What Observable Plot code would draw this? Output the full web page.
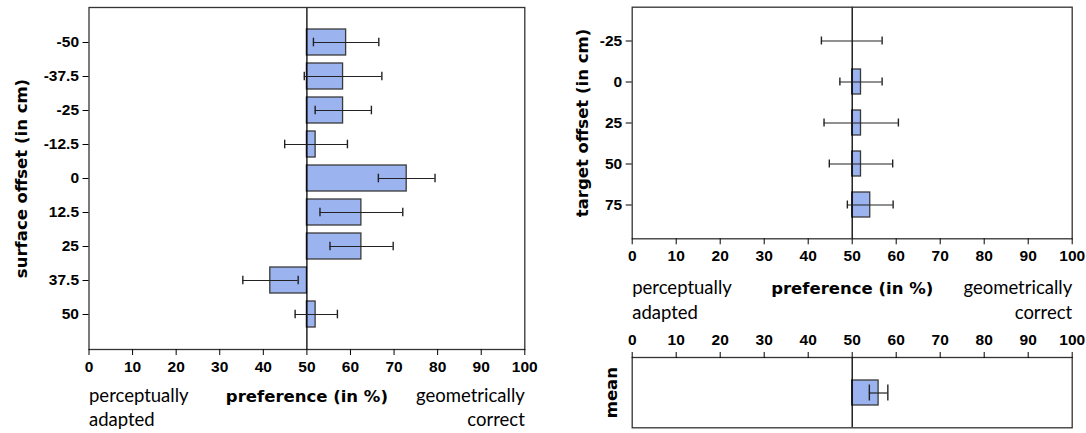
<!DOCTYPE html>
<html><head><meta charset="utf-8">
<script src="https://cdn.jsdelivr.net/npm/d3@7"></script>
<script src="https://cdn.jsdelivr.net/npm/@observablehq/plot@0.6"></script>
<style>
body{margin:0;background:#fff;}
#wrap{position:relative;width:1086px;height:433px;overflow:hidden;}
#wrap svg{position:absolute;overflow:visible;}
</style></head><body><div id="wrap"></div>
<script>
// ---- data ----
const surfaceOffsets = ["-50", "-37.5", "-25", "-12.5", "0", "12.5", "25", "37.5", "50"];
const surfacePref = [59.0, 58.3, 58.3, 52.0, 72.9, 62.5, 62.5, 41.6, 52.0];
const surfaceLo   = [51.5, 49.4, 51.9, 44.9, 66.4, 53.0, 55.3, 35.3, 47.3];
const surfaceHi   = [66.5, 67.2, 64.8, 59.3, 79.4, 72.0, 69.8, 48.0, 57.0];

const targetOffsets = ["-25", "0", "25", "50", "75"];
const targetPref = [50.0, 52.0, 52.0, 52.0, 54.1];
const targetLo   = [43.0, 47.2, 43.6, 44.8, 48.9];
const targetHi   = [56.8, 56.8, 60.5, 59.2, 59.3];

const meanCats = ["mean"];
const meanPref = [56.0];
const meanLo   = [53.9];
const meanHi   = [58.1];

const xTicks = [0, 10, 20, 30, 40, 50, 60, 70, 80, 90, 100];
const xTitle = "preference (in %)";
const leftEnd = ["perceptually", "adapted"];
const rightEnd = ["geometrically", "correct"];

// ---- helpers ----
const FILL = "#9bb3ee", EDGE = "#3a3a3a", ERR = "#222";
const TICK_FONT = "'Liberation Sans', Arial, sans-serif";
const LABEL_FONT = "Lato, sans-serif";
const TITLE_FONT = "'DejaVu Sans', sans-serif";
const tickFont = {fontFamily: TICK_FONT, fontSize: 15.5, fontWeight: "bold", fill: "black"};
const rows = (cats, v, lo, hi) => cats.map((c, i) => ({c, v: v[i], lo: lo[i], hi: hi[i]}));

function barMarks(data, capInset) {
  return [
    Plot.barX(data, {y: "c", x1: 50, x2: "v", fill: FILL, stroke: EDGE, strokeWidth: 1.3}),
    Plot.ruleX([50], {stroke: "black", strokeWidth: 1.3}),
    Plot.ruleY(data, {y: "c", x1: "lo", x2: "hi", stroke: ERR, strokeWidth: 1.2}),
    Plot.tickX(data, {y: "c", x: "lo", insetTop: capInset, insetBottom: capInset, stroke: ERR, strokeWidth: 1.4}),
    Plot.tickX(data, {y: "c", x: "hi", insetTop: capInset, insetBottom: capInset, stroke: ERR, strokeWidth: 1.4}),
    Plot.frame({stroke: "#333", strokeWidth: 1.3})
  ];
}
function xAxis(anchor) {
  const top = anchor === "top";
  return [
    Plot.axisX({anchor, ticks: xTicks, tickSize: 6, tickFormat: () => "", stroke: "black", label: null}),
    Plot.text(xTicks, {x: d => d, text: d => String(d), frameAnchor: anchor, dy: top ? -17 : 17.5, lineAnchor: "middle", ...tickFont})
  ];
}
function yAxis(cats) {
  return [
    Plot.axisY({tickSize: 6, tickFormat: () => "", stroke: "black", label: null}),
    Plot.text(cats, {y: d => d, text: d => d, frameAnchor: "left", dx: -10, textAnchor: "end", lineAnchor: "middle", ...tickFont})
  ];
}
function txt(s, opts) {
  return Plot.text([0], {text: () => s, fill: "black", fontWeight: "normal", fontFamily: LABEL_FONT, fontSize: 18.5, ...opts});
}
function endLabels(dy1, dy2) {
  return [
    txt(leftEnd[0], {frameAnchor: "bottom-left", textAnchor: "start", lineAnchor: "bottom", dy: dy1}),
    txt(leftEnd[1], {frameAnchor: "bottom-left", textAnchor: "start", lineAnchor: "bottom", dy: dy2}),
    txt(rightEnd[0], {frameAnchor: "bottom-right", textAnchor: "end", lineAnchor: "bottom", dy: dy1}),
    txt(rightEnd[1], {frameAnchor: "bottom-right", textAnchor: "end", lineAnchor: "bottom", dy: dy2}),
    txt(xTitle, {frameAnchor: "bottom", textAnchor: "middle", lineAnchor: "bottom", dy: dy1, fontWeight: "bold", fontFamily: TITLE_FONT, fontSize: 16.5})
  ];
}
function yTitle(s, dx) {
  return txt(s, {frameAnchor: "left", rotate: -90, textAnchor: "middle", lineAnchor: "middle", dx, fontWeight: "bold", fontFamily: TITLE_FONT, fontSize: 16.5});
}
const baseStyle = (left, top) => ({fontFamily: TICK_FONT, fontSize: "15px", color: "black", background: "transparent", left: left + "px", top: top + "px"});

const wrap = document.getElementById("wrap");

// ---- left panel: surface offset ----
const leftData = rows(surfaceOffsets, surfacePref, surfaceLo, surfaceHi);
wrap.append(Plot.plot({
  width: 540, height: 433,
  marginLeft: 88.5, marginRight: 15.7, marginTop: 7, marginBottom: 84,
  style: baseStyle(0, 0),
  x: {domain: [0, 100]},
  y: {domain: surfaceOffsets, paddingInner: 0.25, paddingOuter: 0.625},
  marks: [
    ...barMarks(leftData, 8.7),
    ...xAxis("bottom"),
    ...yAxis(surfaceOffsets),
    ...endLabels(52, 76),
    yTitle("surface offset (in cm)", -67.5)
  ]
}));

// ---- top right panel: target offset ----
const targetData = rows(targetOffsets, targetPref, targetLo, targetHi);
wrap.append(Plot.plot({
  width: 546, height: 330,
  marginLeft: 91.7, marginRight: 14.3, marginTop: 6.7, marginBottom: 91.7,
  style: baseStyle(540, 0),
  x: {domain: [0, 100]},
  y: {domain: targetOffsets, paddingInner: 0.4, paddingOuter: 0.485},
  marks: [
    ...barMarks(targetData, 8.5),
    ...xAxis("bottom"),
    ...yAxis(targetOffsets),
    ...endLabels(55, 80),
    yTitle("target offset (in cm)", -49)
  ]
}));

// ---- bottom right panel: mean ----
const meanData = rows(meanCats, meanPref, meanLo, meanHi);
wrap.append(Plot.plot({
  width: 546, height: 103,
  marginLeft: 91.7, marginRight: 14.3, marginTop: 27, marginBottom: 5.7,
  style: baseStyle(540, 330),
  x: {domain: [0, 100]},
  y: {domain: meanCats, paddingInner: 0, paddingOuter: 0.868, axis: null},
  marks: [
    ...barMarks(meanData, 4.5),
    ...xAxis("top"),
    yTitle("mean", -20)
  ]
}));
</script></body></html>
